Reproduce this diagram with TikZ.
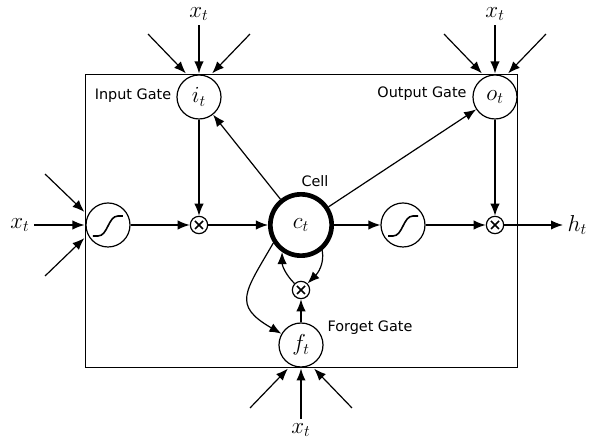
\documentclass[tikz,border=0pt]{standalone}
\usepackage{fontspec}
\setmainfont{DejaVu Sans}
\usepackage{tikz}
\usetikzlibrary{calc,arrows.meta}

\tikzset{
    arr/.style={-{Latex[length=9pt,width=7pt]}, line width=0.9pt},
    gate/.style={draw, circle, line width=0.9pt, minimum size=33pt, inner sep=0pt, font=\LARGE},
    cellnode/.style={draw, circle, line width=3.5pt, minimum size=46pt, inner sep=0pt, font=\LARGE},
    mult/.style={draw, circle, line width=0.9pt, minimum size=13pt, inner sep=0pt,
        path picture={\draw[line width=1.3pt, shift={(path picture bounding box.center)}]
            (-4,-4) -- (4,4) (-4,4) -- (4,-4);}},
    sigm/.style={gate,
        path picture={\draw[line width=1.2pt, shift={(path picture bounding box.center)}]
            (-15,-11) -- (-10,-11) .. controls (0,-11) and (0,9) .. (10,9) -- (15,9);}},
    lbl/.style={font=\fontsize{10.8}{12}\selectfont},
}

\begin{document}
\begin{tikzpicture}[x=0.75pt, y=0.75pt]
    \useasboundingbox (-301,-216) rectangle (295,225);

    \node [cellnode] (C) at (0, 0) {\(c_t\)};
    \node [lbl] (cellLbl) at ($(C) + (14, 44)$) {Cell};
        \node [sigm] (sigL) at ($(C) + (-193, 0)$) {};
        \node [mult] (mulI) at ($(C) + (-102, 0)$) {};
            \node [gate] (iGate) at ($(mulI) + (0, 128)$) {\(i_t\)};
            \node [lbl] (iLbl) at ($(iGate) + (-66, 1)$) {Input Gate};
        \node [sigm] (sigR) at ($(C) + (102, 0)$) {};
        \node [mult] (mulO) at ($(C) + (194, 0)$) {};
            \node [gate] (oGate) at ($(mulO) + (0, 128)$) {\(o_t\)};
            \node [lbl] (oLbl) at ($(oGate) + (-73, 3)$) {Output Gate};
        \node [mult] (mulF) at ($(C) + (0, -65)$) {};
            \node [gate] (fGate) at ($(C) + (0, -120)$) {\(f_t\)};
            \node [lbl] (fLbl) at ($(fGate) + (69, 17)$) {Forget Gate};
    \node [anchor=west, font=\LARGE] (h) at ($(mulO) + (68, 0)$) {\(h_t\)};

    \draw [line width=1pt] (sigL.west |- iGate.north) rectangle (oGate.east |- fGate.south);

    \draw [arr] (sigL) -- (mulI);
    \draw [arr] (iGate) -- (mulI);
    \draw [arr] (mulI) -- (C);
    \draw [arr] (C) -- (iGate);
    \draw [arr] (C) -- (oGate);
    \draw [arr] (C) -- (sigR);
    \draw [arr] (sigR) -- (mulO);
    \draw [arr] (oGate) -- (mulO);
    \draw [arr] (mulO) -- (h);
        \draw [arr] (fGate) -- (mulF);
        \draw [arr] (C.-50) to[out=-80, in=45] (mulF);
        \draw [arr] (mulF) to[out=135, in=-90] (C.235);
        \draw [arr] (C.213) to[out=240, in=150, looseness=1.6] (fGate.150);

    % inputs x_t into each gate
    \foreach \gt/\ang/\dist in {sigL/180/88, iGate/90/83, oGate/90/83, fGate/-90/85} {
        \node [font=\LARGE] (x-\gt) at ($(\gt) + (\ang:\dist)$) {\(x_t\)};
        \coordinate (\gt-m) at ($(\gt) + (\ang:23.5)$);
        \coordinate (\gt-a1) at ($(\gt) + (\ang+39:81)$);
        \coordinate (\gt-b1) at ($(\gt) + (\ang+29:27)$);
        \coordinate (\gt-a2) at ($(\gt) + (\ang-39:81)$);
        \coordinate (\gt-b2) at ($(\gt) + (\ang-29:27)$);
        \draw [arr] (x-\gt) -- (\gt-m);
        \draw [arr] (\gt-a1) -- (\gt-b1);
        \draw [arr] (\gt-a2) -- (\gt-b2);
    }
\end{tikzpicture}
\end{document}
